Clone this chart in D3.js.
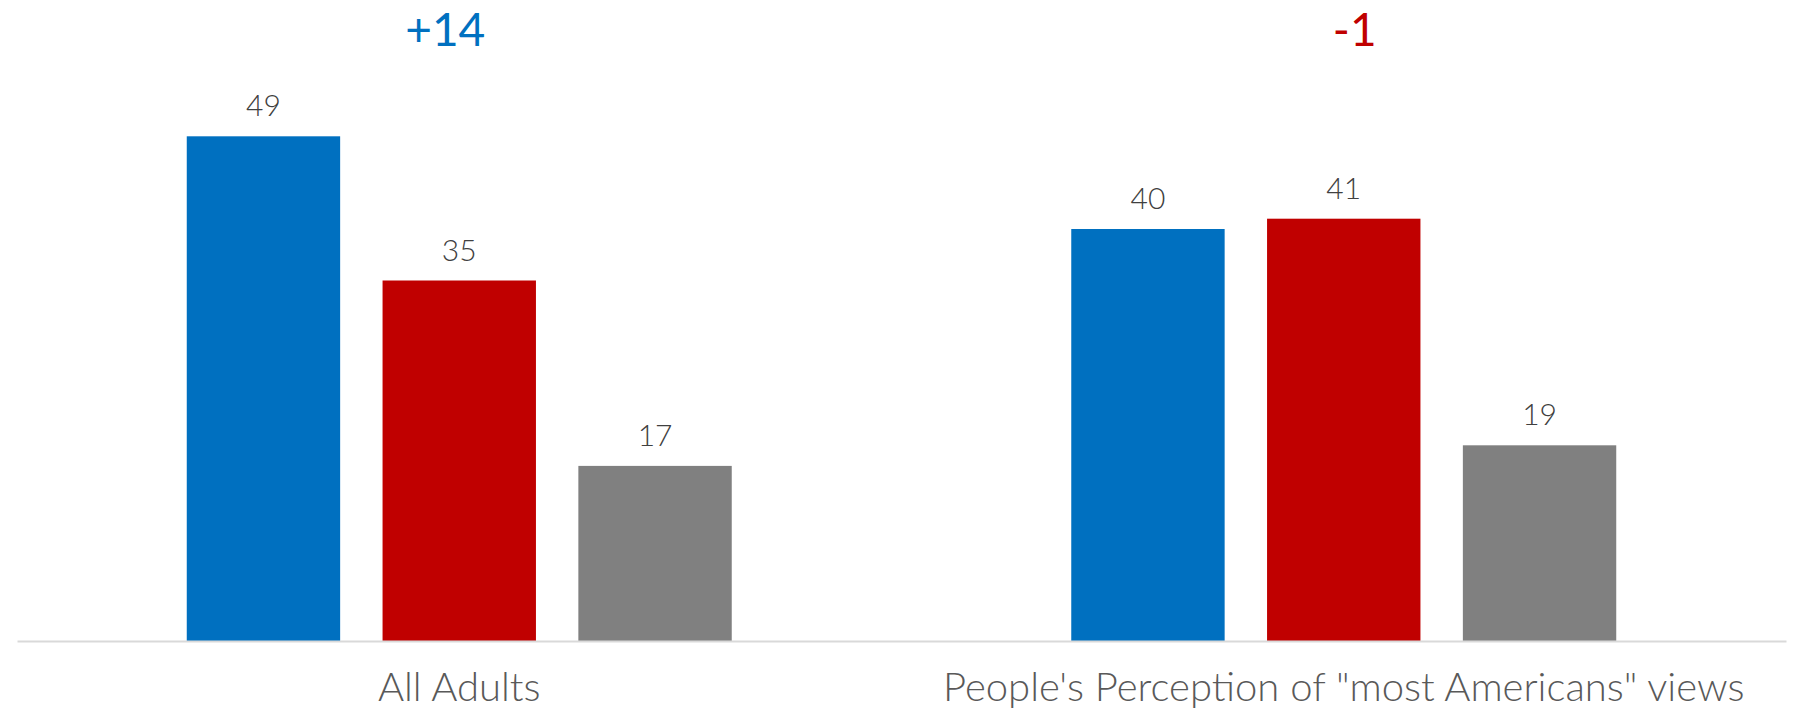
<!DOCTYPE html>
<html>
<head>
<meta charset="utf-8">
<script src="https://cdn.jsdelivr.net/npm/d3@7"></script>
<style>
  html, body { margin: 0; padding: 0; background: #fff; }
  svg { display: block; }
  text { font-family: Lato, "Open Sans", sans-serif; font-weight: 300; }
</style>
</head>
<body>
<svg id="chart" width="1795" height="710"></svg>
<script>
const categories = ["All Adults", "People's Perception of \"most Americans\" views"];
const seriesNames = ["Blue", "Red", "Gray"];
const blueValues = [49, 40];
const redValues = [35, 41];
const grayValues = [17, 19];
const gapLabels = ["+14", "-1"];
const gapSeries = ["Blue", "Red"];

const colors = { Blue: "#0070C0", Red: "#C00000", Gray: "#808080" };
const seriesValues = { Blue: blueValues, Red: redValues, Gray: grayValues };

const svg = d3.select("#chart");
const left = 17, right = 1786, baseline = 641;

const x0 = d3.scaleBand().domain(categories).range([left, right]).padding(0);
const x1 = d3.scaleBand().domain(seriesNames).range([0, x0.bandwidth()])
  .paddingInner(0.2166).paddingOuter(0.867);
const y = d3.scaleLinear().domain([0, 60]).range([baseline, baseline - 618]);

const rows = categories.map((c, i) => ({
  cat: c,
  items: seriesNames.map(s => ({ s, v: seriesValues[s][i] }))
}));

const g = svg.selectAll("g.grp").data(rows).join("g")
  .attr("class", "grp")
  .attr("transform", d => `translate(${x0(d.cat)},0)`);

g.selectAll("rect").data(d => d.items).join("rect")
  .attr("x", d => x1(d.s))
  .attr("y", d => y(d.v))
  .attr("width", x1.bandwidth())
  .attr("height", d => y(0) - y(d.v))
  .attr("fill", d => colors[d.s]);

g.selectAll("text.val").data(d => d.items).join("text")
  .attr("class", "val")
  .attr("x", d => x1(d.s) + x1.bandwidth() / 2)
  .attr("y", d => y(d.v) - 20)
  .attr("text-anchor", "middle")
  .attr("font-size", 30)
  .attr("fill", "#404040")
  .text(d => d.v);

// axis line
const xAxis = d3.axisBottom(x0).tickSize(0).tickPadding(0);
const ax = svg.append("g").attr("transform", `translate(0,${baseline})`).call(xAxis);
ax.select(".domain").attr("stroke", "#d9d9d9").attr("stroke-width", 2);
ax.selectAll(".tick text")
  .attr("y", 60)
  .attr("dy", 0)
  .attr("font-size", 40)
  .attr("fill", "#595959")
  .style("font-family", "Lato, 'Open Sans', sans-serif")
  .style("font-weight", 300);

// gap annotations
const gapOffsets = [-14, 11];
svg.selectAll("text.gap").data(categories).join("text")
  .attr("class", "gap")
  .attr("x", (c, i) => x0(c) + x0.bandwidth() / 2 + gapOffsets[i])
  .attr("y", 46)
  .attr("text-anchor", "middle")
  .attr("font-size", 46)
  .style("font-weight", 400)
  .attr("fill", (c, i) => colors[gapSeries[i]])
  .text((c, i) => gapLabels[i]);
</script>
</body>
</html>
